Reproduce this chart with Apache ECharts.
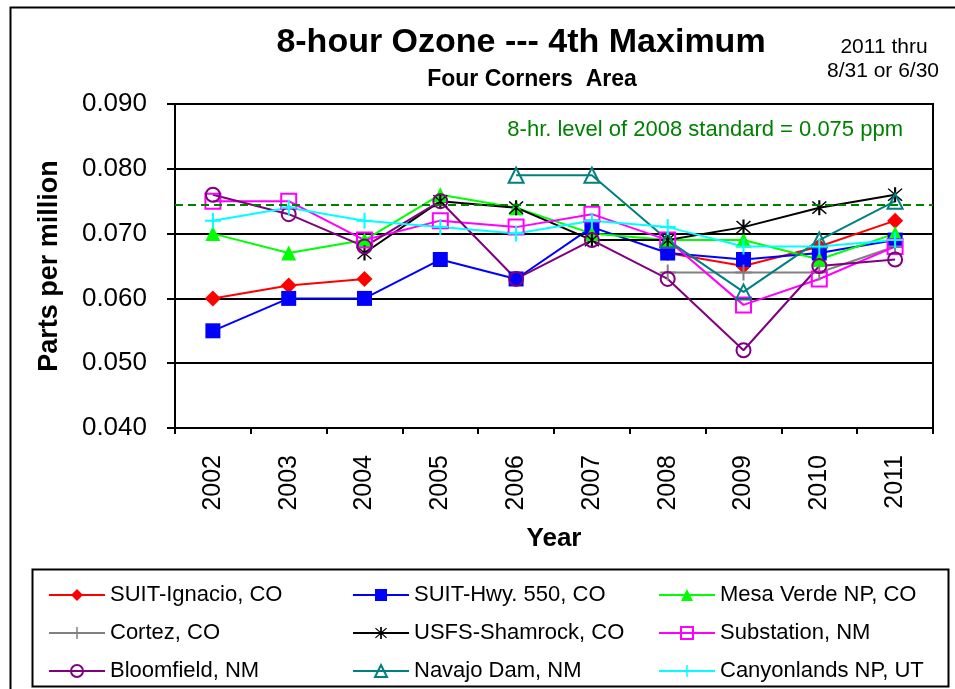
<!DOCTYPE html>
<html>
<head>
<meta charset="utf-8">
<script src="https://cdn.jsdelivr.net/npm/echarts@6/dist/echarts.min.js"></script>
<style>
  html, body { margin: 0; padding: 0; background: #fff; }
  #main { width: 955px; height: 689px; }
</style>
</head>
<body>
<div id="main"></div>
<script>
// values, ppm
const years = ['2002', '2003', '2004', '2005', '2006', '2007', '2008', '2009', '2010', '2011'];
const suitIgnacio = [0.060, 0.062, 0.063, null, null, null, 0.067, 0.065, 0.068, 0.072];
const suitHwy550 = [0.055, 0.060, 0.060, 0.066, 0.063, 0.071, 0.067, 0.066, 0.067, 0.069];
const mesaVerde = [0.070, 0.067, 0.069, 0.076, 0.074, 0.070, 0.069, 0.069, 0.066, 0.070];
const cortez = [null, null, null, null, null, null, 0.064, 0.064, 0.064, 0.068];
const shamrock = [null, null, 0.067, 0.075, 0.074, 0.069, 0.069, 0.071, 0.074, 0.076];
const substation = [0.075, 0.075, 0.069, 0.072, 0.071, 0.073, 0.069, 0.059, 0.063, 0.068];
const bloomfield = [0.076, 0.073, 0.068, 0.075, 0.063, 0.069, 0.063, 0.052, 0.065, 0.066];
const navajoDam = [null, null, null, null, 0.079, 0.079, 0.069, 0.061, 0.069, 0.075];
const canyonlands = [0.072, 0.074, 0.072, 0.071, 0.070, 0.072, 0.071, 0.068, 0.068, 0.069];
const standardLevel = 0.0745;
const yTicks = [0.04, 0.05, 0.06, 0.07, 0.08, 0.09];

const FONT = '"Liberation Sans", Arial, sans-serif';
const plusPath = 'path://M-1,-8h2v16h-2z M-8,-1h16v2h-16z';
const starPath = 'path://M-1,-8h2v16h-2z M-7,-6L-6,-7L7,6L6,7Z M-6,7L-7,6L6,-7L7,-6Z';

function line(name, data, color, symbol, size, hollow) {
  return {
    name: name,
    type: 'line',
    data: data,
    symbol: symbol,
    symbolSize: size,
    lineStyle: { color: color, width: 2 },
    itemStyle: hollow
      ? { color: 'rgba(0,0,0,0)', borderColor: color, borderWidth: 2 }
      : { color: color, borderWidth: 0 },
    emphasis: { disabled: true },
    animation: false
  };
}

const series = [
  line('SUIT-Ignacio, CO', suitIgnacio, '#ff0000', 'diamond', 16, false),
  line('SUIT-Hwy. 550, CO', suitHwy550, '#0000ff', 'rect', 15, false),
  line('Mesa Verde NP, CO', mesaVerde, '#00ff00', 'triangle', 15, false),
  line('Cortez, CO', cortez, '#808080', plusPath, 16, false),
  line('USFS-Shamrock, CO', shamrock, '#000000', starPath, 15, false),
  line('Substation, NM', substation, '#ff00ff', 'rect', 15, true),
  line('Bloomfield, NM', bloomfield, '#800080', 'circle', 14, true),
  line('Navajo Dam, NM', navajoDam, '#008080', 'triangle', 15, true),
  line('Canyonlands NP, UT', canyonlands, '#00ffff', plusPath, 16, false)
];

series[0].markLine = {
  silent: true,
  precision: 4,
  symbol: ['none', 'none'],
  label: { show: false },
  lineStyle: { color: '#008000', type: [8, 5], width: 2 },
  data: [{ yAxis: standardLevel }]
};

function legendCol(left, names) {
  return {
    orient: 'vertical',
    left: left,
    top: 578,
    itemWidth: 56,
    itemHeight: 15,
    itemGap: 14,
    selectedMode: false,
    textStyle: { fontFamily: FONT, fontSize: 22, color: '#000', lineHeight: 24 },
    data: names
  };
}

const chart = echarts.init(document.getElementById('main'));
chart.setOption({
  backgroundColor: '#fff',
  animation: false,
  grid: {
    left: 175, right: 22, top: 104, bottom: 261,
    show: true, borderColor: '#000', borderWidth: 2
  },
  xAxis: {
    type: 'category',
    data: years,
    boundaryGap: true,
    name: 'Year',
    nameLocation: 'middle',
    nameGap: 98,
    nameTextStyle: { fontFamily: FONT, fontSize: 26, fontWeight: 'bold', color: '#000' },
    axisLine: { lineStyle: { color: '#000', width: 2 } },
    axisTick: { show: true, length: 6, lineStyle: { color: '#000', width: 2 } },
    axisLabel: { rotate: 90, margin: 27, fontFamily: FONT, fontSize: 25, color: '#000' },
    splitLine: { show: false }
  },
  yAxis: {
    type: 'value',
    min: yTicks[0],
    max: yTicks[yTicks.length - 1],
    interval: 0.01,
    name: 'Parts per million',
    nameLocation: 'middle',
    nameGap: 112,
    nameTextStyle: { fontFamily: FONT, fontSize: 27, fontWeight: 'bold', color: '#000' },
    axisLine: { show: true, lineStyle: { color: '#000', width: 2 } },
    axisTick: { show: true, length: 8, lineStyle: { color: '#000', width: 2 } },
    axisLabel: {
      margin: 28, fontFamily: FONT, fontSize: 26, color: '#000',
      formatter: function (v) { return v.toFixed(3); }
    },
    splitLine: { show: true, lineStyle: { color: '#000', width: 2 } }
  },
  legend: [
    legendCol(43, [series[0].name, series[3].name, series[6].name]),
    legendCol(347, [series[1].name, series[4].name, series[7].name]),
    legendCol(653, [series[2].name, series[5].name, series[8].name])
  ],
  graphic: [
    { type: 'rect', left: 8, top: 5, shape: { width: 1000, height: 750 }, style: { fill: 'none', stroke: '#000', lineWidth: 2 }, z: -1 },
    { type: 'rect', left: 30, top: 567, shape: { width: 916, height: 117 }, style: { fill: 'none', stroke: '#000', lineWidth: 2 } },
    { type: 'text', x: 521, y: 43, style: { text: '8-hour Ozone --- 4th Maximum', font: 'bold 34px ' + FONT, fill: '#000', align: 'center', verticalAlign: 'middle' } },
    { type: 'text', x: 532, y: 80, style: { text: 'Four Corners  Area', font: 'bold 23px ' + FONT, fill: '#000', align: 'center', verticalAlign: 'middle' } },
    { type: 'text', x: 884, y: 47, style: { text: '2011 thru', font: '21px ' + FONT, fill: '#000', align: 'center', verticalAlign: 'middle' } },
    { type: 'text', x: 883, y: 71, style: { text: '8/31 or 6/30', font: '21px ' + FONT, fill: '#000', align: 'center', verticalAlign: 'middle' } },
    { type: 'text', x: 903, y: 130, style: { text: '8-hr. level of 2008 standard = 0.075 ppm', font: '22px ' + FONT, fill: '#008000', align: 'right', verticalAlign: 'middle' } }
  ],
  series: series
});
</script>
</body>
</html>
